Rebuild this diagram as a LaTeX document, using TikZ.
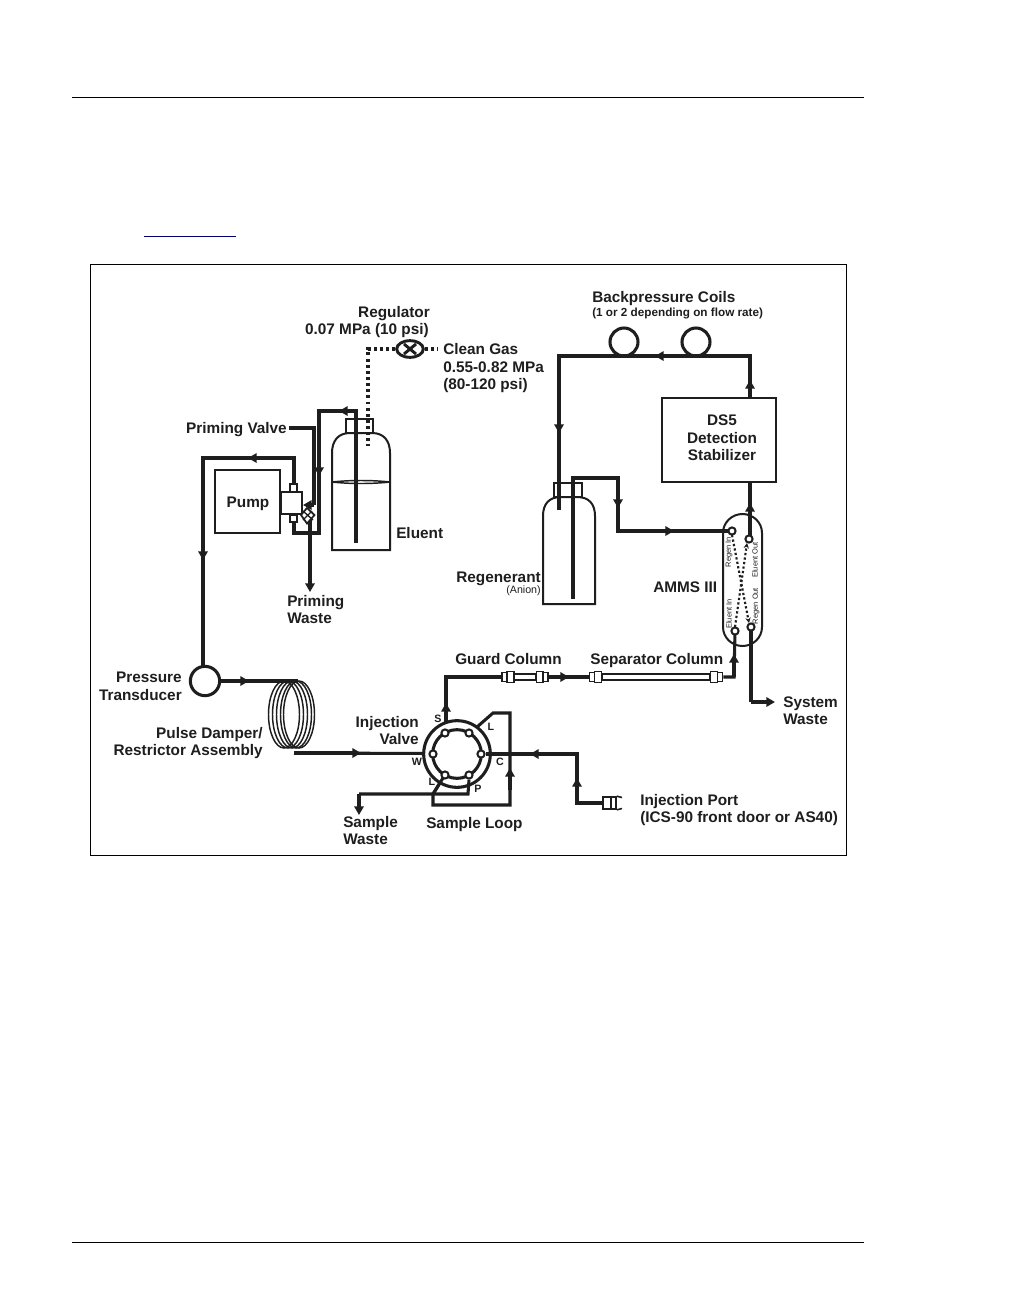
\documentclass[tikz,border=0pt]{standalone}
\usepackage{fontspec}
\setmainfont{Liberation Sans}
\usetikzlibrary{arrows.meta,calc,shapes.geometric}
\definecolor{ink}{HTML}{1E1E1E}
\definecolor{linkblue}{HTML}{000070}
\tikzset{
  x=0.75pt,y=-0.75pt,
  pipe/.style={draw=ink,line width=2.3pt,line join=miter},
  wall/.style={draw=ink,line width=1.5pt},
  gas/.style={draw=ink,line width=2.4pt,dash pattern=on 2.2pt off 2.4pt},
  rdot/.style={draw=ink,line width=1.6pt,dash pattern=on 1.7pt off 1.7pt},
  tip/.style={-{Triangle[length=6.5pt,width=7pt]}},
  port/.style={circle,draw=ink,fill=white,line width=1.5pt,minimum size=5.4pt,inner sep=0pt},
  box/.style={rectangle,draw=ink,fill=white,line width=1.7pt,inner sep=0pt},
  sbox/.style={rectangle,draw=ink,fill=white,line width=1.2pt,inner sep=0pt},
  ring/.style={circle,draw=ink,fill=white,line width=2.3pt,inner sep=0pt},
  t/.style={text=ink,inner sep=0pt,text height=8.2pt,text depth=0pt,font=\fontsize{11.5pt}{13pt}\selectfont\bfseries},
  tl/.style={t,anchor=west},
  tr/.style={t,anchor=east},
  tc/.style={t,anchor=center},
  tv/.style={text=ink,inner sep=0pt,font=\fontsize{5.6pt}{7pt}\selectfont,rotate=90,anchor=center},
  tp/.style={text=ink,inner sep=0pt,font=\fontsize{8pt}{9pt}\selectfont\bfseries,anchor=center},
}
\begin{document}
\begin{tikzpicture}
\useasboundingbox (0,0) rectangle (1008,1296);
\fill[white] (0,0) rectangle (1008,1296);
% page furniture
\draw[black,line width=0.9pt] (72,97.5) coordinate (rt1) -- (864,97.5) coordinate (rt2);
\draw[black,line width=0.9pt] (72,1242.5) coordinate (rb1) -- (864,1242.5) coordinate (rb2);
\draw[linkblue,line width=0.8pt] (144,236.5) coordinate (ul1) -- (236,236.5) coordinate (ul2);
\draw[black,line width=0.7pt] (90.5,264.5) rectangle (846.5,855);

% ---------- eluent bottle
\coordinate (elubot) at (356,543);
\draw[wall,fill=white] (332,550) -- (332,453) .. controls (332,441) and (338,433) .. (350,433) -- (372,433) .. controls (384,433) and (390,441) .. (390,453) -- (390,550) -- cycle;
\draw[wall,line width=1.1pt] (332,482) .. controls (350,480) and (372,480) .. (390,482);
\draw[wall,line width=1.1pt] (332,482) .. controls (350,484) and (372,484) .. (390,482);
\node[box,line width=1.4pt,minimum width=20.25pt,minimum height=10.5pt] (elucap) at (359.5,426) {};
% gas
\coordinate (gasend) at (368,446);
\coordinate (gascorner) at (368,349);
\coordinate (gasin) at (438,349);
\node[draw=ink,line width=2.2pt,fill=white,ellipse,inner sep=0pt,minimum width=20pt,minimum height=12.5pt] (reg) at (410,349) {};
\draw[gas] (reg.west) -- (gascorner) -- (gasend);
\draw[gas] (reg.east) -- (gasin);
\draw[ink,line width=2.2pt] ($(reg)+(-6,-5)$) coordinate (x1) -- ($(reg)+(6,5)$) coordinate (x2);
\draw[ink,line width=2.2pt] ($(reg)+(-6,5)$) coordinate (x3) -- ($(reg)+(6,-5)$) coordinate (x4);
% pipe from bottle to pump
\coordinate (elu1) at (356,411); \coordinate (elu2) at (319,411); \coordinate (elu3) at (319,533); \coordinate (elu4) at (294,533);
\coordinate (eluA) at (339,411); \coordinate (eluB) at (319,476);
\draw[pipe] (elubot) -- (elu1) -- (elu2) -- (elu3) -- (elu4) -- (294,522);
\draw[pipe,tip] (elu1) -- (eluA);
\draw[pipe,tip] (elu2) -- (eluB);

% ---------- pump
\node[box,minimum width=48.75pt,minimum height=47.25pt] (pump) at (247.5,501.5) {};
\node[tc] (pumplab) at (248,502) {Pump};
\coordinate (top1) at (294,458); \coordinate (top2) at (203,458);
\node[ring,minimum size=22pt] (ptrans) at (205,681) {};
\draw[pipe] (294,484) -- (top1) -- (top2) -- (203,666);
\draw[pipe,tip] (top1) -- (248,458);
\draw[pipe,tip] (top2) -- (203,560);
\node[box,line width=1.3pt,minimum width=15.75pt,minimum height=16.5pt] (pvalve) at (291.5,503) {};
\node[sbox,minimum width=5.25pt,minimum height=6pt] (pv1) at (293.5,488) {};
\node[sbox,minimum width=5.25pt,minimum height=5.5pt] (pv2) at (293.5,518.5) {};
% priming valve
\coordinate (pr1) at (289,428); \coordinate (pr2) at (314,428); \coordinate (pr3) at (314,505); \coordinate (pr4) at (303,505);
\draw[pipe] (pr1) -- (pr2) -- (pr3);
\draw[pipe,tip] (pr3) -- (pr4);
\draw[pipe,tip] (310,515) coordinate (wastetop) -- (310,592) coordinate (wasteend);
\draw[ink,line width=1.3pt,fill=white] (307,508) coordinate (c1) -- (314.5,515) coordinate (c2) -- (307,523.5) coordinate (c3) -- (301,515) coordinate (c4) -- cycle;
\draw[ink,line width=1pt] (303,511) -- (313,520) (303,520) -- (312,511);

% ---------- transducer to valve
\coordinate (coilin) at (298,681); \coordinate (coilout) at (294,753);
\foreach \cx in {284,288,292,296,299}{ \draw[ink,line width=1.1pt] (\cx,714.5) ellipse [x radius=15.5,y radius=33.5]; }
\draw[pipe] (ptrans.east) -- (coilin);
\draw[pipe,tip] (ptrans.east) -- (249,681);
\coordinate (valvec) at (457,754);
\draw[pipe] (coilout) -- (433,753.5);
\draw[pipe,tip] (coilout) -- (361,753);

% ---------- injection valve outer pipes (behind)
\coordinate (lp1) at (477,727); \coordinate (lp2) at (493,713); \coordinate (lp3) at (510,713); \coordinate (lp4) at (510,805); \coordinate (lp5) at (433,805); \coordinate (lp6) at (433,794); \coordinate (lp7) at (443,778);
\draw[pipe] (lp1) -- (lp2) -- (lp3) -- (lp4) -- (lp5) -- (lp6) -- (lp7);
\draw[pipe,tip] (510,790) coordinate (lpA) -- (510,768) coordinate (lpB);
\node[ring,minimum size=50pt] (vouter) at (valvec) {};
\node[ring,minimum size=36.5pt] (vinner) at (valvec) {};
\draw[pipe] (lp6) -- (lp7);
% ports
\node[port] (p1) at (445,733) {};
\node[port] (p2) at (469,733) {};
\node[port] (p3) at (481,754) {};
\node[port] (p4) at (469,775) {};
\node[port] (p5) at (445,775) {};
\node[port] (p6) at (433,754) {};
% C line from injection port
\node[sbox,minimum width=6pt,minimum height=9pt] (plug) at (607,803) {};
\node[sbox,minimum width=3.75pt,minimum height=9pt] (plug2) at (613.5,803) {};
\coordinate (cn1) at (577,803); \coordinate (cn2) at (577,754);
\draw[pipe] (plug.west) -- (cn1) -- (cn2) -- (p3.east);
\draw[pipe,tip] (cn1) -- (577,778);
\draw[pipe,tip] (cn2) -- (530,754);
\draw[ink,line width=1.2pt] (plug2.north east) -- (622,797.5) (plug2.south east) -- (622,808.5);
% P to waste
\coordinate (ps1) at (468,794); \coordinate (ps2) at (359,794);
\draw[pipe] (p4.south) -- (ps1) -- (ps2);
\draw[pipe,tip] (ps2) -- (359,815);
% S to columns
\coordinate (s1) at (446,677);
\node[sbox,minimum width=3.75pt,minimum height=6.5pt] (gc0) at (504.5,677) {};
\node[sbox,minimum width=5pt,minimum height=8pt] (gc1) at (510.5,677) {};
\node[sbox,minimum width=5pt,minimum height=8pt] (gc2) at (540,677) {};
\node[sbox,minimum width=3.75pt,minimum height=6.5pt] (gc3) at (545.5,677) {};
\draw[pipe] (vouter.north -| s1) -- (s1) -- (gc0.west);
\draw[pipe,tip] (446,722) -- (446,703);
\draw[wall,line width=1.1pt,fill=white] (gc1.east |- 0,674) rectangle (gc2.west |- 0,680);
\node[sbox,minimum width=3.75pt,minimum height=6.5pt] (sc0) at (592,677) {};
\node[sbox,minimum width=5pt,minimum height=8pt] (sc1) at (598,677) {};
\node[sbox,minimum width=5pt,minimum height=8pt] (sc2) at (714,677) {};
\node[sbox,minimum width=3.75pt,minimum height=6.5pt] (sc3) at (720,677) {};
\draw[pipe] (gc3.east) -- (sc0.west);
\draw[pipe,tip] (gc3.east) -- (569,677);
\draw[wall,line width=1.1pt,fill=white] (sc1.east |- 0,674) rectangle (sc2.west |- 0,680);

% ---------- regenerant bottle
\coordinate (regtube) at (573,599);
\draw[wall,fill=white] (543,604) -- (543,516) .. controls (543,504) and (549,497) .. (561,497) -- (577,497) .. controls (589,497) and (595,504) .. (595,516) -- (595,604) -- cycle;
\node[box,line width=1.3pt,minimum width=21pt,minimum height=10.5pt] (regcap) at (568,490) {};
\coordinate (bpA) at (750,356); \coordinate (bpB) at (559,356); \coordinate (bpC) at (559,510);
\node[ring,minimum size=21pt] (coil1) at (624,342) {};
\node[ring,minimum size=21pt] (coil2) at (696,342) {};
\node[box,minimum width=85.5pt,minimum height=63pt] (ds5) at (719,440) {};
\draw[pipe] (ds5.north -| bpA) -- (bpA) -- (bpB) -- (bpC);
\draw[pipe,tip] (ds5.north -| bpA) -- (750,380);
\draw[pipe,tip] (bpA) -- (655,356);
\draw[pipe,tip] (bpB) -- (559,433);
\coordinate (rg1) at (573,478); \coordinate (rg2) at (618,478); \coordinate (rg3) at (618,531);
\draw[pipe] (regtube) -- (rg1) -- (rg2) -- (rg3) -- (723,531);
\draw[pipe,tip] (rg2) -- (618,508);
\draw[pipe,tip] (rg3) -- (674,531);

% ---------- AMMS
\draw[wall,fill=white] (723,533) arc[start angle=180,end angle=360,x radius=19.5,y radius=19] -- (762,627) arc[start angle=0,end angle=180,x radius=19.5,y radius=19] -- cycle;
\coordinate (sw1) at (751,702);
\draw[pipe] (723,531) -- (732,531);
\draw[pipe] (735,631) -- (734,677) -- (sc3.east);
\draw[pipe,tip] (734,677) -- (734,654);
\draw[pipe] (751,630) -- (sw1);
\draw[pipe,tip] (sw1) -- (775,702);
\draw[pipe] (750,539) -- (750,482);
\draw[pipe,tip] (750,539) -- (750,503);
\draw[rdot,-{Stealth[length=4pt,width=4pt]}] (732,535) -- (749,623);
\draw[rdot,-{Stealth[length=4pt,width=4pt]}] (735,627) -- (747,543);
\node[port] (rin) at (732,531) {};
\node[port] (eout) at (749,539) {};
\node[port] (ein) at (735,631) {};
\node[port] (rout) at (751,627) {};
% ---------- labels
\node[tc] at (394,312) {Regulator};
\node[tr] at (429,329) {0.07 MPa (10 psi)};
\node[tl] at (443,349) {Clean Gas};
\node[tl] at (443,367) {0.55-0.82 MPa};
\node[tl] at (443,384) {(80-120 psi)};
\node[tr] at (287,428) {Priming Valve};
\node[tl] at (396,533) {Eluent};
\node[tl] at (287,601) {Priming};
\node[tl] at (287,618) {Waste};
\node[tr] at (541,577) {Regenerant};
\node[text=ink,inner sep=0pt,anchor=east,font=\fontsize{8pt}{9pt}\selectfont] at (541,591) {(Anion)};
\node[text=ink,inner sep=0pt,anchor=west,font=\fontsize{8.8pt}{10pt}\selectfont\bfseries] at (592,313) {(1 or 2 depending on flow rate)};
\node[tl] at (592,297) {Backpressure Coils};
\node[tc] at (722,420) {DS5};
\node[tc] at (722,438) {Detection};
\node[tc] at (722,455) {Stabilizer};
\node[tl] at (653,587) {AMMS III};
\node[tv] at (729,552) {Regen In};
\node[tv] at (755,560) {Eluent Out};
\node[tv] at (729,614) {Eluent In};
\node[tv] at (756,606) {Regen Out};
\node[tl] at (455,659) {Guard Column};
\node[tl] at (590,659) {Separator Column};
\node[tl] at (783,702) {System};
\node[tl] at (783,719) {Waste};
\node[tr] at (182,677) {Pressure};
\node[tr] at (182,695) {Transducer};
\node[tr] at (263,733) {Pulse Damper/};
\node[tr] at (263,750) {Restrictor Assembly};
\node[tr] at (419,722) {Injection};
\node[tr] at (419,739) {Valve};
\node[tp] at (438,719) {S};
\node[tp] at (417,762) {W};
\node[tp] at (432,782) {L};
\node[tp] at (478,789) {P};
\node[tp] at (491,727) {L};
\node[tp] at (500,762) {C};
\node[tl] at (343,822) {Sample};
\node[tl] at (343,839) {Waste};
\node[tl] at (426,823) {Sample Loop};
\node[tl] at (640,800) {Injection Port};
\node[tl] at (640,817) {(ICS-90 front door or AS40)};
\end{tikzpicture}
\end{document}
